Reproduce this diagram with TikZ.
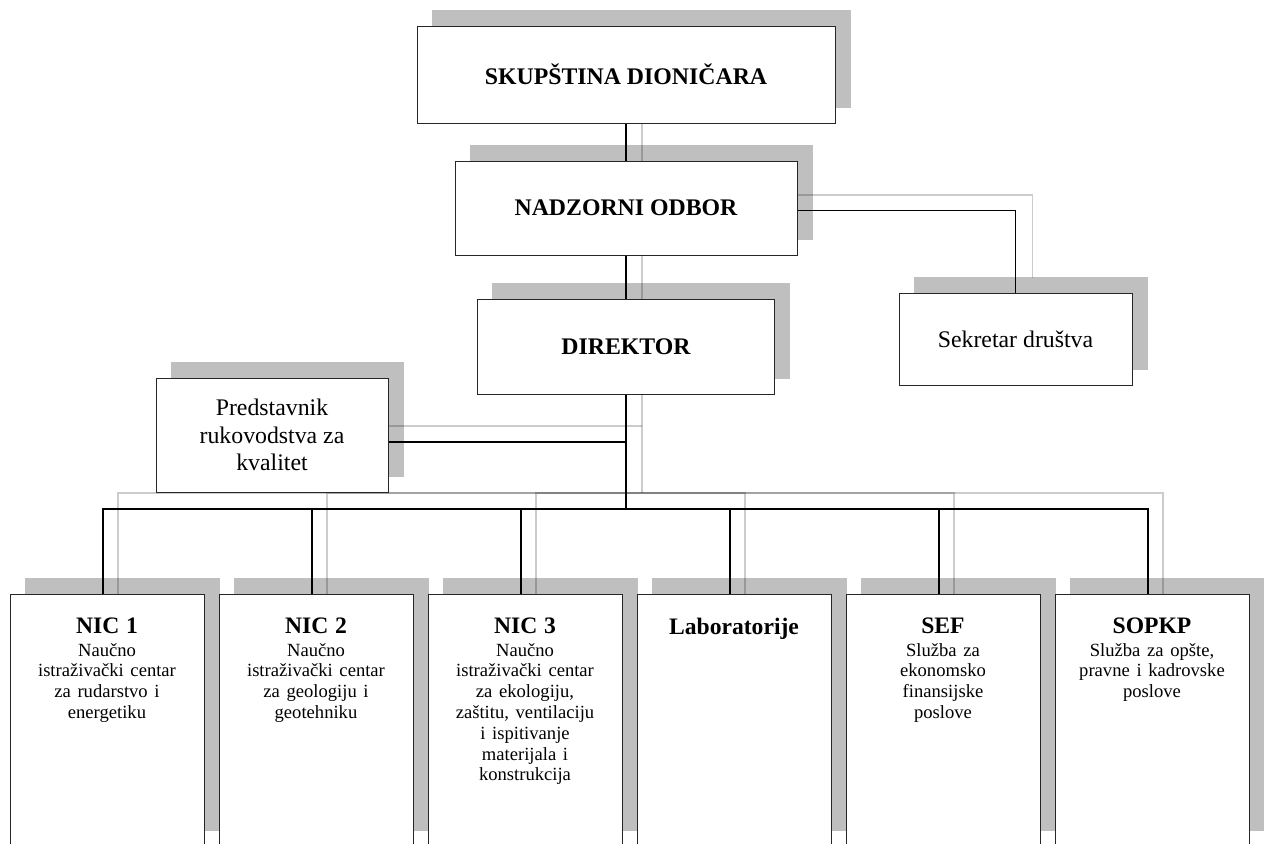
\documentclass[tikz,border=0pt]{standalone}
\usepackage{fontspec}
\setmainfont{Liberation Serif}
\usepackage{tikz}
\usetikzlibrary{backgrounds,calc}
\definecolor{shadowgray}{RGB}{191,191,191}

\newcommand{\unitname}[1]{{\fontsize{11.8pt}{11.3pt}\selectfont\bfseries #1\par}}
\newcommand{\unitdesc}[1]{{\vspace{0.9pt}\fontsize{9.3pt}{10.4pt}\selectfont #1\par}}

\tikzset{
  orgbox/.style={draw=black!85, line width=0.5pt, fill=white, align=center, inner sep=0pt,
    font=\fontsize{11.9pt}{13.7pt}\selectfont},
  unitbox/.style={orgbox, minimum width=97pt, minimum height=126pt},
  unittext/.style={anchor=north, text width=95pt, align=center, inner sep=0pt},
  link/.style={line width=0.65pt, black},
  shadowlink/.style={line width=0.65pt, draw=black, draw opacity=0.2},
}

\begin{document}
\begin{tikzpicture}[x=0.5pt, y=-0.5pt]
  \useasboundingbox (0,0) rectangle (1264,843);

  % Management
  \node[orgbox, minimum width=209pt, minimum height=48.5pt, font=\fontsize{11.9pt}{13.7pt}\selectfont\bfseries]
    (skup) at (626,74.5) {SKUPŠTINA DIONIČARA};
  \node[orgbox, minimum width=171pt, minimum height=47pt, font=\fontsize{11.9pt}{13.7pt}\selectfont\bfseries]
    (nadzor) at (626,208) {NADZORNI ODBOR};
  \node[orgbox, minimum width=148.5pt, minimum height=47.5pt, font=\fontsize{11.9pt}{13.7pt}\selectfont\bfseries]
    (direktor) at (626,346.5) {DIREKTOR};
  \node[orgbox, minimum width=116.5pt, minimum height=46pt] (sekretar) at (1015.5,339) {Sekretar društva};
  \node[orgbox, minimum width=116pt, minimum height=57pt] (predstavnik) at (272,435)
    {Predstavnik\\rukovodstva za\\kvalitet};

  % Units
  \node[unitbox] (nic1) at (107,720) {};
  \node[unitbox] (nic2) at (316,720) {};
  \node[unitbox] (nic3) at (525,720) {};
  \node[unitbox] (lab) at (734,720) {};
  \node[unitbox] (sef) at (943,720) {};
  \node[unitbox] (sopkp) at (1152,720) {};

  \node[unittext] (nic1t) at ([yshift=-12pt]nic1.north)
    {\unitname{NIC 1}\unitdesc{Naučno\\istraživački centar\\za rudarstvo i\\energetiku}};
  \node[unittext] (nic2t) at ([yshift=-12pt]nic2.north)
    {\unitname{NIC 2}\unitdesc{Naučno\\istraživački centar\\za geologiju i\\geotehniku}};
  \node[unittext] (nic3t) at ([yshift=-12pt]nic3.north)
    {\unitname{NIC 3}\unitdesc{Naučno\\istraživački centar\\za ekologiju,\\zaštitu, ventilaciju\\i ispitivanje\\materijala i\\konstrukcija}};
  \node[unittext] (labt) at ([yshift=-12pt]lab.north) {\unitname{Laboratorije}};
  \node[unittext] (seft) at ([yshift=-12pt]sef.north)
    {\unitname{SEF}\unitdesc{Služba za\\ekonomsko\\finansijske\\poslove}};
  \node[unittext] (sopkpt) at ([yshift=-12pt]sopkp.north)
    {\unitname{SOPKP}\unitdesc{Služba za opšte,\\pravne i kadrovske\\poslove}};

  \coordinate (bus) at (626,509);
  \coordinate (gbus) at (642,493);

  % Shadows
  \begin{pgfonlayer}{background}
    \foreach \n in {skup,nadzor,direktor,sekretar,predstavnik,nic1,nic2,nic3,lab,sef,sopkp}
      \fill[shadowgray] ([shift={(15,-16)}]\n.south west) rectangle ([shift={(15,-16)}]\n.north east);

    \draw[shadowlink] ([xshift=8pt]skup.south) -- ([xshift=8pt]nadzor.north);
    \draw[shadowlink] ([xshift=8pt]nadzor.south) -- ([xshift=8pt]direktor.north);
    \draw[shadowlink] ([yshift=6.5pt]nadzor.east) -| ([xshift=8.5pt,yshift=7.5pt]sekretar.north);
    \draw[shadowlink] ([yshift=4.5pt]predstavnik.east) -- ([yshift=4.5pt]predstavnik.east -| gbus);
    \draw[shadowlink] ([xshift=8pt]direktor.south) -- (gbus);
    \foreach \n in {nic1,nic2,nic3,lab,sef,sopkp}
      \draw[shadowlink] (gbus) -| ([xshift=5.5pt]\n.north);
  \end{pgfonlayer}

  % Connectors
  \draw[link] (skup.south) -- (nadzor.north);
  \draw[link] (nadzor.south) -- (direktor.north);
  \draw[link] ([yshift=-1.25pt]nadzor.east) -| (sekretar.north);
  \draw[link] ([yshift=-3.5pt]predstavnik.east) -- ([yshift=-3.5pt]predstavnik.east -| direktor.south);
  \draw[link] (direktor.south) -- (bus);
  \foreach \n in {nic1,nic2,nic3,lab,sef,sopkp}
    \draw[link] (bus) -| ([xshift=-2pt]\n.north);

\end{tikzpicture}
\end{document}
